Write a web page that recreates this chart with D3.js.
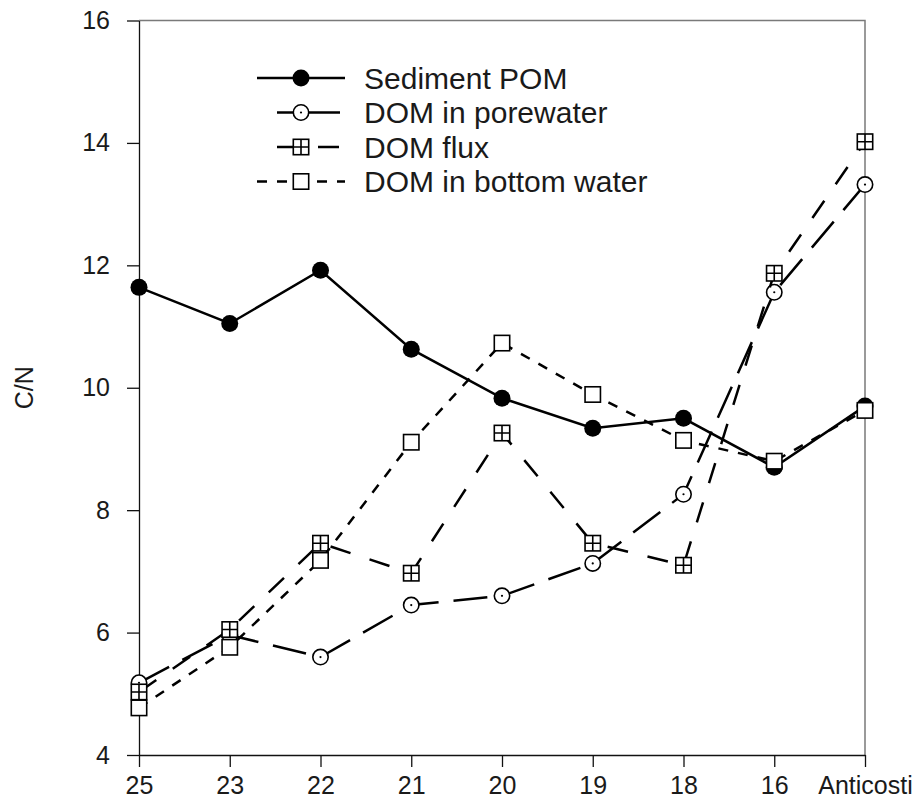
<!DOCTYPE html>
<html lang="en">
<head>
    <meta charset="UTF-8">
    <title>C/N</title>
    <script src="https://d3js.org/d3.v7.min.js"></script>
    <style>
        body {
            margin: 0;
            background: #fff;
        }
        text {
            font-family: "Liberation Sans", Arial, sans-serif;
            fill: #1a1a1a;
        }
    </style>
</head>
<body>
    <div id="chart"></div>

    <script>
        // stations, from offshore to Anticosti
        const stations = ["25", "23", "22", "21", "20", "19", "18", "16", "Anticosti"];
        const sedimentPOM = [11.64, 11.05, 11.92, 10.63, 9.83, 9.34, 9.50, 8.70, 9.70];
        const domPorewater = [5.18, 5.96, 5.60, 6.45, 6.60, 7.13, 8.26, 11.56, 13.32];
        const domFlux = [5.03, 6.05, 7.46, 6.97, 9.26, 7.46, 7.10, 11.87, 14.02];
        const domBottomWater = [4.77, 5.76, 7.18, 9.11, 10.73, 9.89, 9.14, 8.80, 9.63];
        const seriesNames = ["Sediment POM", "DOM in porewater", "DOM flux", "DOM in bottom water"];
        const yTicks = [4, 6, 8, 10, 12, 14, 16];

        const width = 916, height = 806;
        const plotLeft = 139, plotRight = 865, plotTop = 20.5, plotBottom = 755;

        const svg = d3.select("#chart").append("svg")
            .attr("width", width)
            .attr("height", height);

        const x = d3.scalePoint().domain(stations).range([plotLeft, plotRight]);
        const y = d3.scaleLinear().domain([4, 16]).range([plotBottom, plotTop]);

        // grey frame on top and right
        svg.append("path")
            .attr("d", `M${plotLeft},${plotTop}H${plotRight}V${plotBottom}`)
            .attr("fill", "none")
            .attr("stroke", "#7a7a7a")
            .attr("stroke-width", 1.5);

        const yAxis = svg.append("g")
            .attr("transform", `translate(${plotLeft},0)`)
            .call(d3.axisLeft(y).tickValues(yTicks).tickSize(12).tickSizeOuter(0).tickPadding(17));

        const xAxis = svg.append("g")
            .attr("transform", `translate(0,${plotBottom})`)
            .call(d3.axisBottom(x).tickSize(12).tickSizeOuter(0).tickPadding(9));

        [yAxis, xAxis].forEach(g => {
            g.selectAll("path, line").attr("stroke", "#111").attr("stroke-width", 1.3);
            g.selectAll("text").attr("font-size", 25).attr("fill", "#1a1a1a")
                .attr("font-family", "'Liberation Sans', Arial, sans-serif");
        });

        svg.append("text")
            .attr("transform", `translate(33,${(plotTop + plotBottom) / 2}) rotate(-90)`)
            .attr("text-anchor", "middle")
            .attr("font-size", 25)
            .text("C/N");

        // line and symbol styles per series
        const dashes = [null, "34,15", "21,20", "10,10"];
        const markers = ["filled", "dot", "grid", "square"];
        const allValues = [sedimentPOM, domPorewater, domFlux, domBottomWater];

        function drawMarker(g, type, cx, cy) {
            const r = 8.5;
            if (type === "filled") {
                g.append("circle").attr("cx", cx).attr("cy", cy).attr("r", r).attr("fill", "#000");
            } else if (type === "dot") {
                g.append("circle").attr("cx", cx).attr("cy", cy).attr("r", r - 0.8)
                    .attr("fill", "#fff").attr("stroke", "#000").attr("stroke-width", 1.6);
                g.append("circle").attr("cx", cx).attr("cy", cy).attr("r", 1.1).attr("fill", "#000");
            } else {
                g.append("rect").attr("x", cx - r + 0.8).attr("y", cy - r + 0.8)
                    .attr("width", 2 * r - 1.6).attr("height", 2 * r - 1.6)
                    .attr("fill", "#fff").attr("stroke", "#000").attr("stroke-width", 1.6);
                if (type === "grid") {
                    g.append("path")
                        .attr("d", `M${cx - r + 0.8},${cy}H${cx + r - 0.8}M${cx},${cy - r + 0.8}V${cy + r - 0.8}`)
                        .attr("stroke", "#000").attr("stroke-width", 1.6);
                }
            }
        }

        const line = d3.line()
            .x((d, i) => x(stations[i]))
            .y(d => y(d));

        allValues.forEach((values, k) => {
            const g = svg.append("g");
            g.append("path")
                .datum(values)
                .attr("d", line)
                .attr("fill", "none")
                .attr("stroke", "#000")
                .attr("stroke-width", 2.5)
                .attr("stroke-dasharray", dashes[k]);
            values.forEach((v, i) => drawMarker(g, markers[k], x(stations[i]), y(v)));
        });

        // legend
        const legendRows = [78, 112.5, 147, 181.5];
        const legendSpan = [[257, 345], [277, 340], [277, 340], [257, 345]];
        const legendOffset = [0, 18, 0, 0];
        seriesNames.forEach((name, k) => {
            const g = svg.append("g");
            const cy = legendRows[k];
            g.append("line")
                .attr("x1", legendSpan[k][0]).attr("x2", legendSpan[k][1])
                .attr("y1", cy).attr("y2", cy)
                .attr("stroke", "#000")
                .attr("stroke-width", 2.5)
                .attr("stroke-dasharray", dashes[k])
                .attr("stroke-dashoffset", legendOffset[k]);
            drawMarker(g, markers[k], 301, cy);
            g.append("text")
                .attr("x", 364)
                .attr("y", cy + 10.5)
                .attr("font-size", 30)
                .text(name);
        });
    </script>
</body>
</html>
